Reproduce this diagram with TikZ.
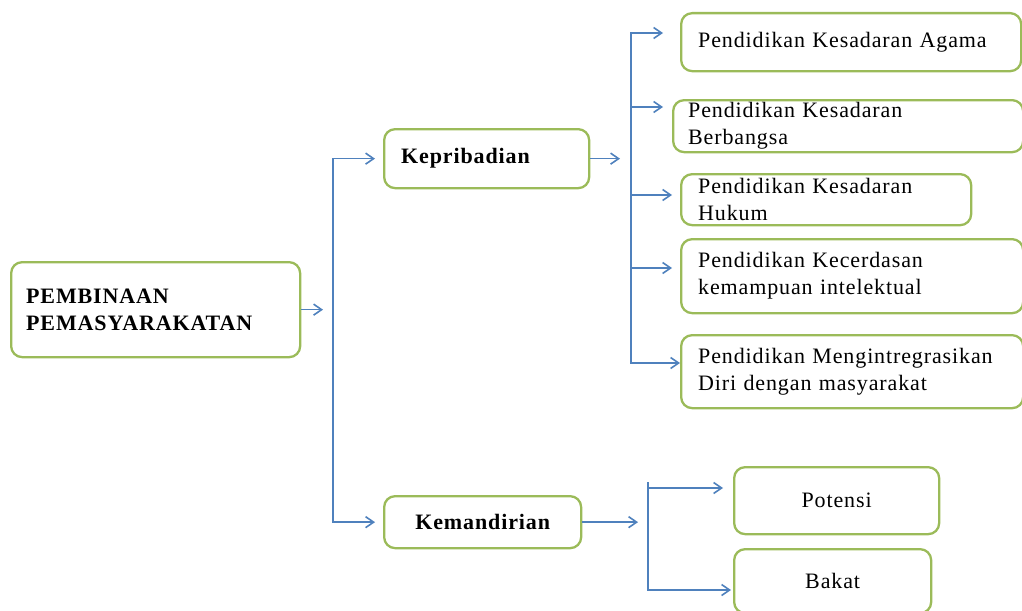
\documentclass[tikz,border=0pt]{standalone}
\usepackage{fontspec}
\setmainfont{Liberation Serif}
\newfontfamily\boxfont[LetterSpace=4]{Liberation Serif}
\usetikzlibrary{arrows.meta}
\definecolor{lineblue}{RGB}{79,129,189}
\definecolor{boxgreen}{RGB}{155,187,89}

\begin{document}
\begin{tikzpicture}[x=1pt, y=-1pt,
box/.style={draw=boxgreen, line width=2.3pt, rounded corners=11pt, anchor=north west,
  inner xsep=16pt, inner ysep=0pt, align=left, font=\boxfont\fontsize{22}{27}\selectfont},
boldbox/.style={box, font=\boxfont\bfseries\fontsize{22}{27}\selectfont},
link/.style={lineblue, line width=1.6pt, -{Straight Barb[length=8pt,width=11pt]}},
bus/.style={lineblue, line width=1.6pt, line cap=rect}]

\useasboundingbox (0,0) rectangle (1022,610);

% LEFT BOXES
\node[boldbox, minimum width=289pt, minimum height=95pt, text width=259pt, inner xsep=15pt]
  (main) at (10,261) {PEMBINAAN\\PEMASYARAKATAN};
\node[boldbox, minimum width=205pt, minimum height=59pt, text width=171pt, inner xsep=17pt]
  (kep) at (383,128) {Kepribadian};
\node[boldbox, minimum width=197pt, minimum height=52pt, text width=165pt, align=center]
  (kem) at (383,495) {Kemandirian};

% RIGHT BOXES
\node[box, minimum width=340pt, minimum height=58pt, text width=306pt, inner xsep=17pt]
  (agama) at (680,12) {Pendidikan Kesadaran Agama};
\node[box, minimum width=350pt, minimum height=52pt, text width=320pt, inner xsep=15pt]
  (bangsa) at (672,99) {Pendidikan Kesadaran\\Berbangsa};
\node[box, minimum width=290pt, minimum height=51pt, text width=256pt, inner xsep=17pt]
  (hukum) at (680,173) {Pendidikan Kesadaran\\Hukum};
\node[box, minimum width=342pt, minimum height=74pt, text width=308pt, inner xsep=17pt]
  (cerdas) at (680,238) {Pendidikan Kecerdasan\\kemampuan intelektual};
\node[box, minimum width=342pt, minimum height=73pt, text width=308pt, inner xsep=17pt]
  (diri) at (680,334) {Pendidikan Mengintregrasikan\\Diri dengan masyarakat};
\node[box, minimum width=205pt, minimum height=67pt, text width=173pt, align=center]
  (pot) at (733,466) {Potensi};
\node[box, minimum width=197pt, minimum height=64pt, text width=165pt, align=center]
  (bak) at (733,548) {Bakat};

% first trunk
\coordinate (trunkA) at (333,0);
\draw[link, shorten >=10pt] (main.east) -- (main.east -| trunkA);
\draw[bus] (trunkA |- kep.west) -- (trunkA |- kem.west);
\draw[link, shorten >=8pt] (trunkA |- kep.west) -- (kep.west);
\draw[link, shorten >=8pt] (trunkA |- kem.west) -- (kem.west);

% trunk of Kepribadian
\coordinate (trunkB) at (631,0);
\draw[link, shorten >=11pt] (kep.east) -- (kep.east -| trunkB);
\coordinate (bTop) at (631,33);
\coordinate (bBot) at (631,363);
\draw[bus] (bTop) -- (bBot);
\foreach \n/\y/\g in {agama/33/17, bangsa/107/9, hukum/195/8, cerdas/268/8, diri/363/0}{
    \coordinate (hy) at (631,\y);
    \draw[link, shorten >=\g pt] (hy) -- (hy -| \n.west);
}

% trunk of Kemandirian
\coordinate (trunkC) at (648,0);
\draw[link, shorten >=10pt] (kem.east) -- (kem.east -| trunkC);
\coordinate (cTop) at (648,483);
\coordinate (cPot) at (648,488);
\coordinate (cBak) at (648,590);
\draw[bus] (cTop) -- (cBak);
\draw[link, shorten >=10pt] (cPot) -- (cPot -| pot.west);
\draw[link, shorten >=2pt] (cBak) -- (cBak -| bak.west);

\end{tikzpicture}
\end{document}
